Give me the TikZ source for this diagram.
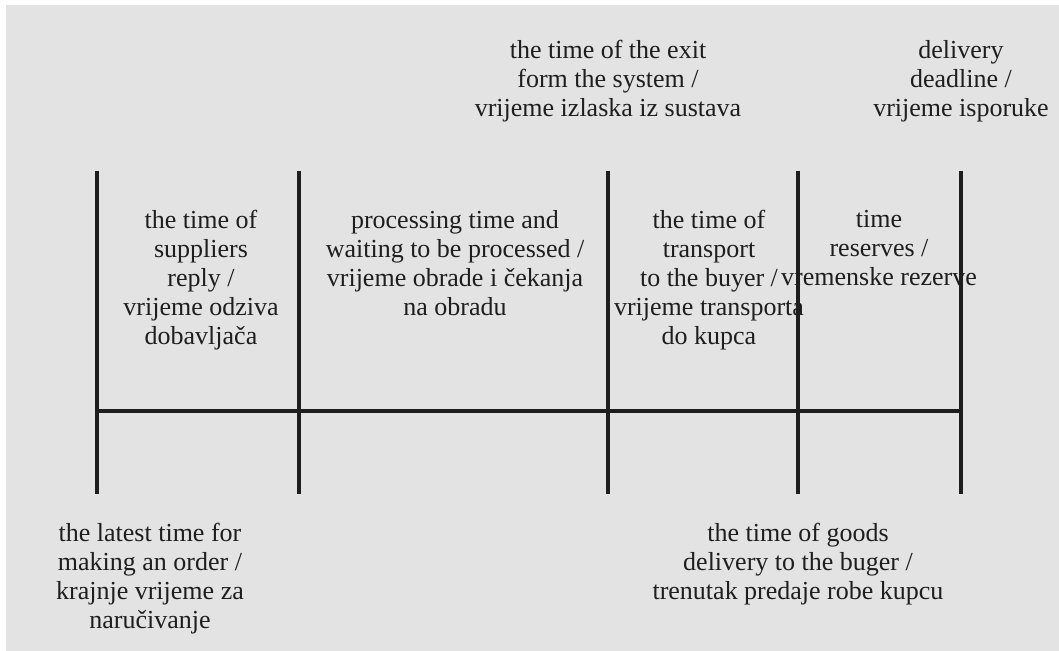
\documentclass[tikz,border=0pt]{standalone}
\usepackage{fontspec}
\setmainfont{Liberation Serif}
\usepackage{xcolor}
\definecolor{bggray}{HTML}{E3E3E3}
\definecolor{ink}{HTML}{1E1E1E}

\begin{document}
\begin{tikzpicture}[x=0.5pt,y=-0.5pt]
	\tikzstyle{txt} = [anchor=north, inner sep=0pt, align=center, text=ink, font=\fontsize{13}{14.5}\selectfont]
	\tikzstyle{line} = [line width=1.75pt, draw=ink]
	\useasboundingbox (0,0) rectangle (1059,651);
	\fill[bggray] (6,5) rectangle (1059,651);
	% time marks on the axis
	\foreach \n/\x in {a/97, b/299, c/608, d/798, e/961} {
		\coordinate (top\n) at (\x,171);
		\coordinate (mid\n) at (\x,411);
		\coordinate (bot\n) at (\x,494);
	}
	\draw[line](topa) -- (bota);
	\draw[line](topb) -- (botb);
	\draw[line](topc) -- (botc);
	\draw[line](topd) -- (botd);
	\draw[line](tope) -- (bote);
	\draw[line](mida) -- (mide);
	% labels above
	\node(exit)[txt] at (608,40) {the time of the exit\\form the system /\\vrijeme izlaska iz sustava};
	\node(deadline)[txt] at (961,40) {delivery\\deadline /\\vrijeme isporuke};
	% labels in the intervals
	\node(reply)[txt] at (201,210) {the time of\\suppliers\\reply /\\vrijeme odziva\\dobavljača};
	\node(proc)[txt] at (455,210) {processing time and\\waiting to be processed /\\vrijeme obrade i čekanja\\na obradu};
	\node(transp)[txt] at (709,210) {the time of\\transport\\to the buyer /\\vrijeme transporta\\do kupca};
	\node(reserve)[txt] at (879,210) {time\\reserves /\\vremenske rezerve};
	% labels below
	\node(order)[txt] at (150,523) {the latest time for\\making an order /\\krajnje vrijeme za\\naručivanje};
	\node(goods)[txt] at (798,523) {the time of goods\\delivery to the buger /\\trenutak predaje robe kupcu};
\end{tikzpicture}
\end{document}
